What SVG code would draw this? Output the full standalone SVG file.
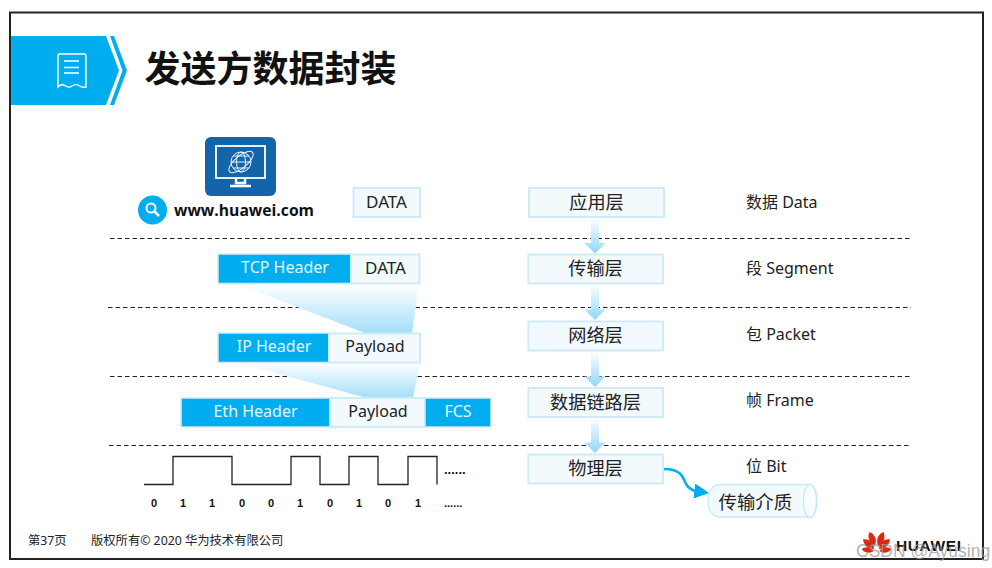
<svg xmlns="http://www.w3.org/2000/svg" width="992" height="568" viewBox="0 0 992 568">
<style>
text{font-family:"Noto Sans","Noto Sans CJK SC",sans-serif;font-size:16px;fill:#222}
.mid{text-anchor:middle}
.lb{fill:#F2FAFE;stroke:#CFEBF8;stroke-width:2}
.bl{fill:#00AEEF;stroke:#CFEBF8;stroke-width:1.5}
.wt{fill:#E6F7FE}
.dash{stroke:#222;stroke-width:1.2;stroke-dasharray:4.5 3;fill:none}
.layer{font-size:18.200px}
.dt{font-size:17px}
.bit{font-family:"Liberation Sans",sans-serif;font-size:11px;font-weight:700;fill:#111}
.ic{fill:none;stroke:#fff;stroke-width:1.4}
</style>
<defs>
<linearGradient id="fan" x1="0" y1="0" x2="0" y2="1"><stop offset="0" stop-color="#fff"/><stop offset="1" stop-color="#A3DFF9"/></linearGradient>
<linearGradient id="arr" x1="0" y1="0" x2="0" y2="1"><stop offset="0" stop-color="#fff"/><stop offset="1" stop-color="#8FD6F8"/></linearGradient>
<marker id="head" markerWidth="6" markerHeight="6" refX="1.5" refY="3" orient="auto"><path d="M0 0L6 3L0 6z" fill="#00AEEF"/></marker>
<path id="down" d="M-4 0H4V25H10.5L0 35.500L-10.500 25H-4z" fill="url(#arr)"/>
<path id="petal" d="M0 0C-5 -4 -5.500 -10 -2.500 -15C3 -12 4 -5 0 0z" fill="#DE2910"/>
</defs>
<rect width="992" height="568" fill="#fff"/>
<rect id="frame" x="10" y="12.500" width="973" height="546.500" fill="none" stroke="#222" stroke-width="2"/>
<g id="banner">
<path d="M11 36H106L119 70.500L106 105H11z" fill="#00AEEF"/>
<path d="M110 36H114L127 70.500L114 105H110L122.500 70.500z" fill="#00AEEF"/>
<path class="ic" d="M58 56Q58 54 60 54H84Q86 54 86 56V87Q82 88 79 85.500Q75.500 83.500 72 86Q68.500 88.500 65 85.500Q61.500 83.500 58 87z"/>
<path class="ic" d="M64 61H79M64 67.500H79M64 73H79"/>
</g>
<text id="title" x="144.500" y="82" style="font-size:36px;font-weight:700;fill:#111;font-family:'Noto Sans CJK SC',sans-serif">发送方数据封装</text>
<g id="dividers">
<path class="dash" d="M110 238.500H912"/>
<path class="dash" d="M108 307.500H911"/>
<path class="dash" d="M110 376.500H912"/>
<path class="dash" d="M109 445.500H911"/>
</g>
<g id="monitor">
<rect x="205" y="137" width="71" height="59" rx="6" fill="#1464AA"/>
<rect x="216" y="146" width="49" height="32" fill="none" stroke="#fff" stroke-width="1.800"/>
<path d="M236 179V183H245V179M230 186H251" fill="none" stroke="#fff" stroke-width="2.500"/>
<g fill="none" stroke="#E8F2FA" stroke-width="1">
<circle cx="241" cy="162" r="10"/><ellipse cx="241" cy="162" rx="4.500" ry="10"/><path d="M231 162H251M233 156H249M233 168H249"/>
<ellipse cx="241" cy="162" rx="15" ry="6" transform="rotate(-40 241 162)"/>
</g>
</g>
<g id="search">
<circle cx="152.500" cy="210" r="14.500" fill="#00AEEF"/>
<circle cx="151" cy="208" r="4.500" fill="none" stroke="#fff" stroke-width="2"/>
<path d="M154.500 211.500L159 216" stroke="#fff" stroke-width="2.500"/>
<text x="174" y="216" style="font-size:15.700px;font-weight:700;fill:#111;font-family:'Open Sans',sans-serif">www.huawei.com</text>
</g>
<g id="fans">
<path d="M238 284.500H419L412 333H365z" fill="url(#fan)"/>
<path d="M238 362.500H420L413 397.500H365z" fill="url(#fan)"/>
</g>
<g id="connectors">
<use href="#down" x="595" y="218"/>
<use href="#down" x="595" y="284.500"/>
<use href="#down" x="595" y="351.500"/>
<use href="#down" x="595" y="417.500"/>
<path d="M664 469C682 469 683 478 686 484C689 489 694 491 698 491.500" fill="none" stroke="#00AEEF" stroke-width="2.500" marker-end="url(#head)"/>
</g>
<g id="data"><rect class="lb" x="353.500" y="188" width="66.500" height="29"/><text class="mid dt" x="386.500" y="207.500">DATA</text></g>
<g id="tcp-segment">
<rect class="bl" x="218" y="254" width="133" height="29.500"/><rect class="lb" x="351" y="254.500" width="68.500" height="29"/>
<text class="mid wt" x="285" y="273">TCP Header</text><text class="mid dt" x="385.500" y="273.500">DATA</text>
</g>
<g id="ip-packet">
<rect class="bl" x="218" y="333" width="111" height="29.500"/><rect class="lb" x="329" y="333.500" width="91" height="29"/>
<text class="mid wt" x="274" y="352">IP Header</text><text class="mid" x="375" y="352">Payload</text>
</g>
<g id="eth-frame">
<rect class="bl" x="181" y="398" width="149" height="29"/><rect class="lb" x="330" y="398" width="95" height="29"/><rect class="bl" x="425" y="398" width="66" height="29"/>
<text class="mid wt" x="255.500" y="417">Eth Header</text><text class="mid" x="378" y="417">Payload</text><text class="mid wt" x="458" y="417">FCS</text>
</g>
<g id="layer-app"><rect class="lb" x="529" y="188" width="135" height="29"/><text class="mid layer" x="596.500" y="208.500">应用层</text></g>
<g id="layer-transport"><rect class="lb" x="528.500" y="254.500" width="134.500" height="29"/><text class="mid layer" x="595.500" y="275">传输层</text></g>
<g id="layer-network"><rect class="lb" x="528.500" y="321.500" width="134.500" height="29"/><text class="mid layer" x="595.500" y="342">网络层</text></g>
<g id="layer-link"><rect class="lb" x="528.500" y="388" width="134.500" height="29"/><text class="mid layer" x="595.500" y="408.500">数据链路层</text></g>
<g id="layer-physical"><rect class="lb" x="528.500" y="454.500" width="134.500" height="29"/><text class="mid layer" x="595.500" y="475">物理层</text></g>
<g id="pdu-labels">
<text x="746" y="208">数据 Data</text>
<text x="746" y="274">段 Segment</text>
<text x="746" y="340">包 Packet</text>
<text x="746" y="406">帧 Frame</text>
<text x="746" y="472">位 Bit</text>
</g>
<g id="medium">
<path class="lb" style="stroke-width:1.500" d="M720 484.500H810C814 484.500 817 492 817 501S814 517 810 517H720C712 517 708 510 708 501S712 484.500 720 484.500z"/>
<ellipse cx="810" cy="501" rx="6.500" ry="16.500" fill="#FAFDFF" stroke="#C0E7F8" stroke-width="1.200"/>
<text x="718.500" y="508.500" style="font-size:18.400px">传输介质</text>
</g>
<g id="signal">
<path d="M144 484.500H173V456.500H232V484.500H291V456.500H320V484.500H349V456.500H378V484.500H408V456.500H437V484.500" fill="none" stroke="#222" stroke-width="1.300"/>
<text class="bit" x="444" y="474" style="font-size:13px">......</text>
<g class="bit">
<text class="bit mid" x="154" y="507">0</text><text class="bit mid" x="183" y="507">1</text><text class="bit mid" x="212" y="507">1</text><text class="bit mid" x="242" y="507">0</text><text class="bit mid" x="271" y="507">0</text><text class="bit mid" x="300" y="507">1</text><text class="bit mid" x="330" y="507">0</text><text class="bit mid" x="359" y="507">1</text><text class="bit mid" x="388" y="507">0</text><text class="bit mid" x="418" y="507">1</text>
</g>
<text class="bit" x="444" y="507">......</text>
</g>
<g id="footer">
<text x="28" y="545" style="font-size:12.300px">第37页</text>
<text x="91" y="545" style="font-size:12.300px">版权所有© 2020 华为技术有限公司</text>
</g>
<g id="logo">
<g transform="translate(876.500 552)">
<use href="#petal" transform="rotate(-10) translate(-1 -6)"/>
<use href="#petal" transform="scale(-1 1) rotate(-10) translate(-1 -6)"/>
<use href="#petal" transform="rotate(-40) translate(0 -4) scale(.95)"/>
<use href="#petal" transform="scale(-1 1) rotate(-40) translate(0 -4) scale(.95)"/>
<use href="#petal" transform="rotate(-72) translate(0 -3) scale(.8)"/>
<use href="#petal" transform="scale(-1 1) rotate(-72) translate(0 -3) scale(.8)"/>
</g>
<text x="896" y="551" style="font-family:'Liberation Sans',sans-serif;font-size:15.500px;font-weight:700;fill:#111;letter-spacing:.6px">HUAWEI</text>
</g>
<text id="watermark" x="856" y="557" style="font-family:'Liberation Sans',sans-serif;font-size:17.500px;fill:#999;fill-opacity:.75">CSDN @Ayusing</text>
</svg>
